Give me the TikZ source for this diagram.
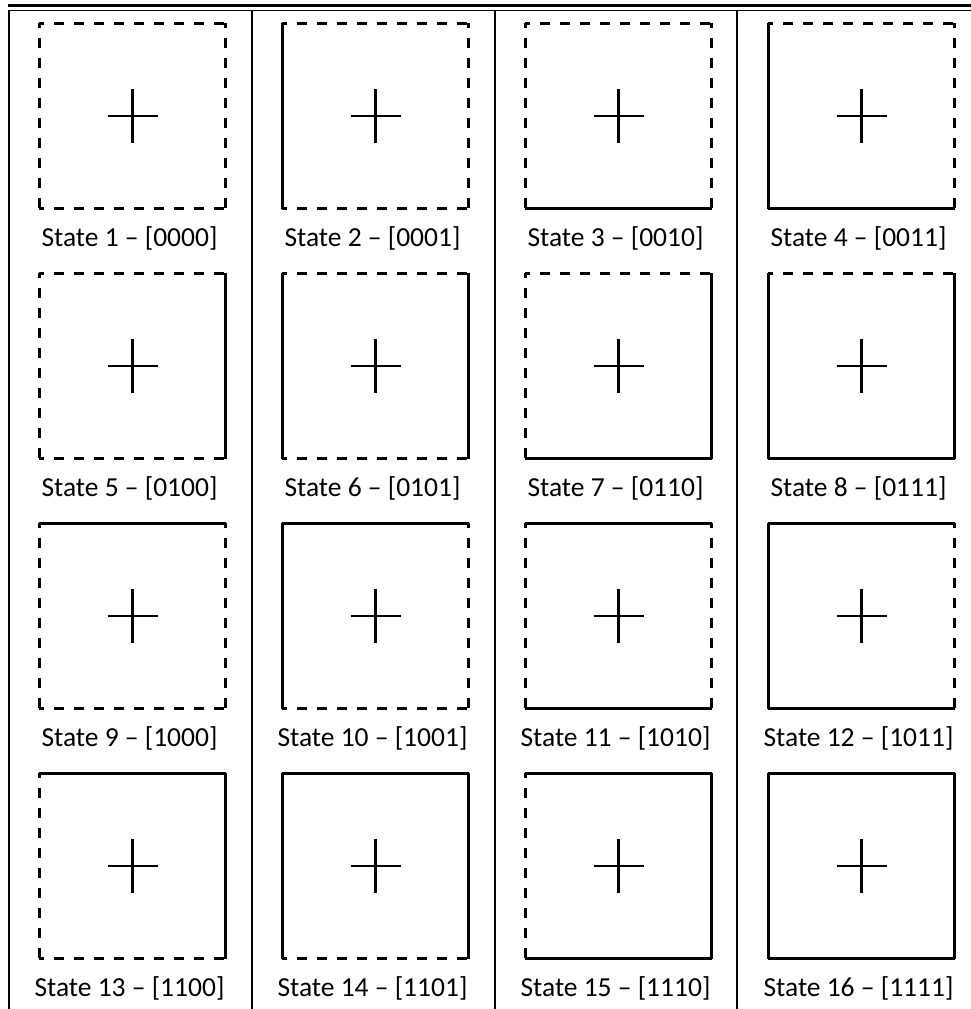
\documentclass[tikz,border=0pt]{standalone}
\usepackage{fontspec}
\setmainfont{Carlito}
\tikzset{
  side0/.style={line width=2.7pt, dash pattern=on 10pt off 10pt, dash phase=5pt},
  side1/.style={line width=2.7pt},
  cell/.style={minimum width=186pt, minimum height=185pt, inner sep=0pt},
  crossbar/.style={line width=2.3pt},
  statelabel/.style={font=\fontsize{27.5}{30}\selectfont, inner sep=0pt, anchor=base},
  rule/.style={line width=1.8pt}
}
\begin{document}
\begin{tikzpicture}[x=1pt,y=-1pt]
\useasboundingbox (0,0) rectangle (971,1009);
\draw[line width=2.6pt] (8,5.5) -- (971,5.5);
\draw[rule] (8,10.5) -- (971,10.5);
\foreach \x in {9,252,495,737} \draw[rule] (\x,10.5) -- (\x,1009);
\foreach \i in {0,...,15}{
  \pgfmathtruncatemacro\n{\i+1}
  \pgfmathtruncatemacro\col{mod(\i,4)}
  \pgfmathtruncatemacro\row{div(\i,4)}
  \pgfmathtruncatemacro\bl{mod(\i,2)}
  \pgfmathtruncatemacro\bb{mod(div(\i,2),2)}
  \pgfmathtruncatemacro\br{mod(div(\i,4),2)}
  \pgfmathtruncatemacro\bt{div(\i,8)}
  \node[cell] (s\n) at ({132.5+243*\col},{116+250*\row}) {};
  \draw[side\bt] (s\n.north west) -- (s\n.north east);
  \draw[side\br] (s\n.north east) -- (s\n.south east);
  \draw[side\bb] (s\n.south west) -- (s\n.south east);
  \draw[side\bl] (s\n.north west) -- (s\n.south west);
  \draw[crossbar] ([xshift=-25pt]s\n.center) -- ([xshift=25pt]s\n.center);
  \draw[crossbar] ([yshift=-27pt]s\n.center) -- ([yshift=27pt]s\n.center);
  \node[statelabel] (l\n) at ({129.5+243*\col},{246+250*\row}) {State \n{} – [\bt\br\bb\bl]};
}
\end{tikzpicture}
\end{document}
